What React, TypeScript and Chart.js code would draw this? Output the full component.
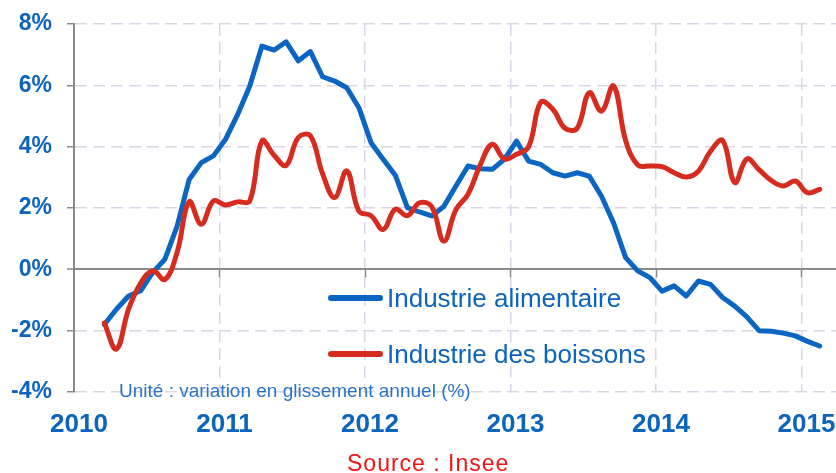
import React, { useEffect, useRef } from "react";
import { Chart, registerables } from "chart.js";

Chart.register(...registerables);

// ---- Data (monthly, March 2010 -> February 2015) ----
const START_YEAR = 2010;
const FIRST_MONTH = 2; // 0 = January 2010, so 2 = March 2010
const yearTicks = [2010, 2011, 2012, 2013, 2014, 2015];
const percentTicks = [-4, -2, 0, 2, 4, 6, 8];

const alimentaire = [
  -1.8, -1.3, -0.87, -0.7, -0.1, 0.33, 1.4, 2.93, 3.48, 3.7,
  4.24, 5.05, 5.98, 7.28, 7.15, 7.42, 6.8, 7.1, 6.28, 6.14,
  5.92, 5.27, 4.13, 3.59, 3.07, 2.01, 1.87, 1.74, 2.05, 2.72,
  3.37, 3.28, 3.26, 3.59, 4.18, 3.53, 3.42, 3.15, 3.04, 3.15,
  3.04, 2.39, 1.52, 0.38, -0.05, -0.27, -0.71, -0.54, -0.87, -0.38,
  -0.49, -0.92, -1.2, -1.55, -2.0, -2.02, -2.08, -2.17, -2.35, -2.5,
];

const boissons = [
  -1.75, -2.6, -1.3, -0.45, -0.05, -0.33, 0.55, 2.2, 1.47, 2.23,
  2.1, 2.2, 2.23, 4.19, 3.72, 3.39, 4.3, 4.35, 3.12, 2.34,
  3.21, 1.9, 1.75, 1.3, 1.96, 1.75, 2.17, 2.05, 0.92, 1.95,
  2.45, 3.4, 4.08, 3.6, 3.75, 4.0, 5.45, 5.22, 4.6, 4.6,
  5.76, 5.16, 5.98, 4.2, 3.4, 3.37, 3.35, 3.15, 3.01, 3.2,
  3.85, 4.2, 2.83, 3.6, 3.25, 2.9, 2.72, 2.88, 2.5, 2.61,
];

const seriesNames = ["Industrie alimentaire", "Industrie des boissons"];
const unitNote = "Unité : variation en glissement annuel (%)";
const sourceNote = "Source : Insee";

const BLUE = "#0a66c2";
const RED = "#d62b1f";
const TEXT_BLUE = "#0b64bd";
const GRID = "#dcd5e8";
const AXIS = "#8a8a8a";
const FONT = '"Liberation Sans", Arial, sans-serif';

const toPoints = (arr: number[]) =>
  arr.map((v, i) => ({ x: FIRST_MONTH + i + 0.5, y: v }));

const zeroTicksPlugin = {
  id: "zeroTicks",
  beforeDatasetsDraw(chart: any) {
    const xs = chart.scales.x;
    const ys = chart.scales.y;
    const y0 = ys.getPixelForValue(0);
    const ctx = chart.ctx;
    ctx.save();
    ctx.strokeStyle = AXIS;
    ctx.lineWidth = 1.5;
    ctx.beginPath();
    xs.ticks.forEach((t: any) => {
      if (t.value === 0) return;
      const px = Math.round(xs.getPixelForValue(t.value)) + 0.5;
      ctx.moveTo(px, y0);
      ctx.lineTo(px, y0 + 8);
    });
    ctx.stroke();
    ctx.restore();
  },
};

export default function App() {
  const canvasRef = useRef<HTMLCanvasElement | null>(null);

  useEffect(() => {
    const canvas = canvasRef.current;
    if (!canvas) return;
    const chart = new Chart(canvas, {
      type: "line",
      data: {
        datasets: [
          {
            label: seriesNames[0],
            data: toPoints(alimentaire),
            borderColor: BLUE,
            borderWidth: 5,
            tension: 0,
            pointRadius: 0,
            borderJoinStyle: "round",
            borderCapStyle: "round",
            order: 1,
          },
          {
            label: seriesNames[1],
            data: toPoints(boissons),
            borderColor: RED,
            borderWidth: 5,
            tension: 0.4,
            pointRadius: 0,
            borderJoinStyle: "round",
            borderCapStyle: "round",
            order: 0,
          },
        ],
      },
      options: {
        responsive: false,
        animation: false,
        layout: { padding: { left: 0, right: 0, top: 24, bottom: 0 } },
        plugins: {
          legend: { display: false },
          tooltip: { enabled: false },
        },
        scales: {
          x: {
            type: "linear",
            min: 0,
            max: 62.85,
            afterBuildTicks: (s: any) => {
              s.ticks = yearTicks.map((y) => ({ value: (y - START_YEAR) * 12 }));
            },
            afterFit: (s: any) => {
              s.height = 81;
              s.paddingLeft = 0;
              s.paddingRight = 0;
            },
            ticks: {
              callback: (v: any) => String(START_YEAR + Number(v) / 12),
              color: TEXT_BLUE,
              font: { family: FONT, size: 26, weight: "bold" },
              padding: 17,
              labelOffset: 5,
              maxRotation: 0,
              autoSkip: false,
            },
            grid: {
              color: GRID,
              lineWidth: 1.5,
              drawTicks: false,
            },
            border: { display: false, dash: [12, 6] },
          },
          y: {
            min: -4,
            max: 8,
            afterBuildTicks: (s: any) => {
              s.ticks = percentTicks.map((v) => ({ value: v }));
            },
            afterFit: (s: any) => {
              s.width = 74;
              s.paddingTop = 0;
              s.paddingBottom = 0;
            },
            ticks: {
              callback: (v: any) => `${v}%`,
              color: TEXT_BLUE,
              font: { family: FONT, size: 23, weight: "bold" },
              padding: 15,
            },
            grid: {
              color: (c: any) => (c.tick && c.tick.value === 0 ? AXIS : GRID),
              lineWidth: (c: any) => (c.tick && c.tick.value === 0 ? 2 : 1.5),
              drawTicks: true,
              tickLength: 7,
              tickColor: AXIS,
              tickWidth: 1.5,
              tickBorderDash: [],
            },
            border: {
              display: true,
              color: AXIS,
              width: 2,
              dash: (c: any) => (c.tick && c.tick.value === 0 ? [] : [12, 6]),
            },
          },
        },
      },
      plugins: [zeroTicksPlugin],
    } as any);
    return () => chart.destroy();
  }, []);

  const textBase: React.CSSProperties = {
    position: "absolute",
    fontFamily: FONT,
    whiteSpace: "nowrap",
    margin: 0,
  };

  return (
    <div
      style={{
        position: "absolute",
        left: 0,
        top: 0,
        width: 836,
        height: 473,
        background: "#ffffff",
        overflow: "hidden",
      }}
    >
      <canvas ref={canvasRef} width={836} height={473} style={{ display: "block" }} />
      {/* legend */}
      <div
        style={{
          position: "absolute",
          left: 328,
          top: 295,
          width: 55,
          height: 6,
          borderRadius: 3,
          background: BLUE,
        }}
      />
      <div style={{ ...textBase, left: 387, top: 285, fontSize: 26, lineHeight: "26px", color: TEXT_BLUE }}>
        {seriesNames[0]}
      </div>
      <div
        style={{
          position: "absolute",
          left: 328,
          top: 351,
          width: 55,
          height: 6,
          borderRadius: 3,
          background: RED,
        }}
      />
      <div style={{ ...textBase, left: 387, top: 341, fontSize: 26, lineHeight: "26px", color: TEXT_BLUE }}>
        {seriesNames[1]}
      </div>
      {/* notes */}
      <div style={{ ...textBase, left: 119, top: 381, fontSize: 19, lineHeight: "19px", color: "#2a73c4" }}>
        {unitNote}
      </div>
      <div
        style={{
          ...textBase,
          left: 347,
          top: 452,
          fontSize: 23,
          lineHeight: "23px",
          letterSpacing: 1,
          color: "#f01414",
        }}
      >
        {sourceNote}
      </div>
    </div>
  );
}
